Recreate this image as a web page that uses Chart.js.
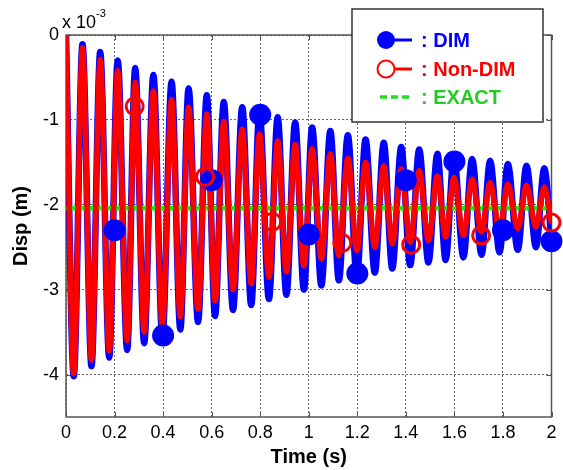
<!DOCTYPE html>
<html>
<head>
<meta charset="utf-8">
<script src="https://cdn.jsdelivr.net/npm/chart.js@4.4.1/dist/chart.umd.min.js"></script>
<style>
  html, body { margin: 0; padding: 0; background: #fff; }
</style>
</head>
<body>
<canvas id="chart1" width="563" height="470"></canvas>
<script>
// displacement values in units of 1e-3 m
// times of the crests and troughs of the oscillation (s)
const peakTimes = [0, 0.068, 0.141, 0.213, 0.285, 0.360, 0.435, 0.505, 0.580, 0.650, 0.726, 0.797, 0.872, 0.944,
  1.014, 1.089, 1.161, 1.234, 1.309, 1.381, 1.455, 1.530, 1.598, 1.673, 1.747, 1.820, 1.897, 1.970];
const troughTimes = [0.032, 0.105, 0.178, 0.252, 0.322, 0.397, 0.471, 0.544, 0.614, 0.688, 0.763, 0.836, 0.908, 0.980,
  1.052, 1.124, 1.198, 1.272, 1.344, 1.418, 1.493, 1.564, 1.637, 1.712, 1.786, 1.861, 1.936];
const endTime = 2.0;

// DIM
const dimPeaks = [0, -0.11, -0.20, -0.30, -0.39, -0.47, -0.55, -0.63, -0.71, -0.79, -0.85, -0.90, -0.97, -1.03,
  -1.09, -1.13, -1.18, -1.23, -1.27, -1.32, -1.35, -1.40, -1.43, -1.46, -1.48, -1.52, -1.54, -1.57];
const dimTroughs = [-4.02, -3.90, -3.80, -3.71, -3.63, -3.57, -3.47, -3.38, -3.31, -3.24, -3.18, -3.11, -3.06, -3.00,
  -2.95, -2.89, -2.85, -2.80, -2.75, -2.71, -2.68, -2.65, -2.62, -2.59, -2.56, -2.53, -2.50];
const dimEnd = -2.42;

// Non-DIM
const nonDimPeaks = [0, -0.15, -0.29, -0.42, -0.56, -0.66, -0.76, -0.85, -0.93, -1.02, -1.11, -1.17, -1.25, -1.29,
  -1.34, -1.40, -1.45, -1.50, -1.54, -1.58, -1.60, -1.66, -1.68, -1.70, -1.74, -1.76, -1.77, -1.79];
const nonDimTroughs = [-3.99, -3.83, -3.72, -3.60, -3.50, -3.42, -3.32, -3.23, -3.13, -3.00, -2.93, -2.85, -2.79, -2.72,
  -2.64, -2.60, -2.54, -2.50, -2.46, -2.44, -2.42, -2.38, -2.36, -2.32, -2.30, -2.28, -2.26];
const nonDimEnd = -2.22;

// marker samples
const dimMarkerTimes = [0.2, 0.4, 0.6, 0.8, 1.0, 1.2, 1.4, 1.6, 1.8, 2.0];
const dimMarkerValues = [-2.30, -3.54, -1.71, -0.94, -2.35, -2.81, -1.71, -1.49, -2.30, -2.43];
const nonDimMarkerTimes = [0.283, 0.573, 0.850, 1.138, 1.422, 1.710, 2.0];
const nonDimMarkerValues = [-0.84, -1.67, -2.20, -2.45, -2.47, -2.36, -2.21];

// exact static solution
const exactTimes = [0, 2];
const exactValues = [-2.04, -2.04];

const xTicks = [0, 0.2, 0.4, 0.6, 0.8, 1, 1.2, 1.4, 1.6, 1.8, 2];
const xTickLabels = ['0', '0.2', '0.4', '0.6', '0.8', '1', '1.2', '1.4', '1.6', '1.8', '2'];
const yTicks = [-4, -3, -2, -1, 0];
const yTickLabels = ['-4', '-3', '-2', '-1', '0'];
const legendLabels = [': DIM', ': Non-DIM', ': EXACT'];

function zigzag(peaks, troughs, last) {
  const pts = [];
  for (let i = 0; i < peakTimes.length; i++) {
    pts.push({ x: peakTimes[i], y: peaks[i] });
    if (i < troughTimes.length) pts.push({ x: troughTimes[i], y: troughs[i] });
  }
  pts.push({ x: endTime, y: last });
  return pts;
}
function pairs(xs, ys) {
  return xs.map((x, i) => ({ x: x, y: ys[i] }));
}

const FONT = "'Liberation Sans', Arial, sans-serif";

// box, inner ticks, exponent label
const framePlugin = {
  id: 'frame',
  beforeDatasetsDraw(chart) {
    const { ctx, chartArea: a, scales } = chart;
    ctx.save();
    ctx.strokeStyle = '#555';
    ctx.lineWidth = 1;
    ctx.beginPath();
    xTicks.forEach(v => {
      const px = Math.round(scales.x.getPixelForValue(v)) + 0.5;
      ctx.moveTo(px, a.bottom); ctx.lineTo(px, a.bottom - 5);
      ctx.moveTo(px, a.top); ctx.lineTo(px, a.top + 5);
    });
    yTicks.forEach(v => {
      const py = Math.round(scales.y.getPixelForValue(v)) + 0.5;
      ctx.moveTo(a.left, py); ctx.lineTo(a.left + 5, py);
      ctx.moveTo(a.right, py); ctx.lineTo(a.right - 5, py);
    });
    ctx.stroke();
    ctx.lineWidth = 1.5;
    ctx.strokeRect(a.left, a.top, a.right - a.left, a.bottom - a.top);
    ctx.fillStyle = '#000';
    ctx.textBaseline = 'middle';
    ctx.font = '18px ' + FONT;
    ctx.fillText('x 10', a.left - 4, a.top - 12);
    ctx.font = '11px ' + FONT;
    ctx.fillText('-3', a.left + 30, a.top - 21);
    ctx.restore();
  }
};

const legendPlugin = {
  id: 'boxLegend',
  afterDraw(chart) {
    const ctx = chart.ctx;
    ctx.save();
    ctx.fillStyle = '#fff';
    ctx.fillRect(352, 9, 191, 113);
    ctx.strokeStyle = '#333';
    ctx.lineWidth = 1.5;
    ctx.strokeRect(352, 9, 191, 113);

    // DIM
    ctx.strokeStyle = '#0000ff';
    ctx.lineWidth = 3;
    ctx.beginPath(); ctx.moveTo(386, 40); ctx.lineTo(412, 40); ctx.stroke();
    ctx.fillStyle = '#0000ff';
    ctx.beginPath(); ctx.arc(386, 40, 9, 0, Math.PI * 2); ctx.fill();
    // Non-DIM
    ctx.strokeStyle = '#ff0000';
    ctx.beginPath(); ctx.moveTo(386, 69); ctx.lineTo(412, 69); ctx.stroke();
    ctx.fillStyle = '#fff';
    ctx.lineWidth = 2;
    ctx.beginPath(); ctx.arc(386, 69, 8.5, 0, Math.PI * 2); ctx.fill(); ctx.stroke();
    // EXACT
    ctx.strokeStyle = '#22dd22';
    ctx.lineWidth = 3.5;
    ctx.setLineDash([7, 4]);
    ctx.beginPath(); ctx.moveTo(380, 97); ctx.lineTo(412, 97); ctx.stroke();
    ctx.setLineDash([]);

    ctx.font = 'bold 20px ' + FONT;
    ctx.textBaseline = 'middle';
    const colors = ['#0000ff', '#ff0000', '#22cc22'];
    const rows = [40, 69, 97];
    legendLabels.forEach((t, i) => {
      ctx.fillStyle = colors[i];
      ctx.fillText(t, 421, rows[i] + 1);
    });
    ctx.restore();
  }
};

const chartConfig = {
  type: 'scatter',
  data: {
    datasets: [
      {
        label: 'Non-DIM markers',
        data: pairs(nonDimMarkerTimes, nonDimMarkerValues),
        showLine: false,
        pointRadius: 8.5,
        pointBorderWidth: 3,
        pointBackgroundColor: 'rgba(0,0,0,0)',
        pointBorderColor: '#ff0000',
        clip: false,
        order: 0
      },
      {
        label: 'DIM markers',
        data: pairs(dimMarkerTimes, dimMarkerValues),
        showLine: false,
        pointRadius: 11,
        pointBorderWidth: 0,
        pointBackgroundColor: '#0000ff',
        clip: false,
        order: 1
      },
      {
        label: 'Non-DIM',
        data: zigzag(nonDimPeaks, nonDimTroughs, nonDimEnd),
        showLine: true,
        borderColor: '#ff0000',
        borderWidth: 5.5,
        pointRadius: 0,
        cubicInterpolationMode: 'monotone',
        clip: 0,
        order: 2
      },
      {
        label: 'EXACT',
        data: pairs(exactTimes, exactValues),
        showLine: true,
        borderColor: '#11ee11',
        borderWidth: 4.5,
        pointRadius: 0,
        clip: 0,
        order: 3
      },
      {
        label: 'DIM',
        data: zigzag(dimPeaks, dimTroughs, dimEnd),
        showLine: true,
        borderColor: '#0000ff',
        borderWidth: 6.5,
        pointRadius: 0,
        cubicInterpolationMode: 'monotone',
        clip: 0,
        order: 4
      }
    ]
  },
  options: {
    responsive: false,
    animation: false,
    devicePixelRatio: 1,
    layout: { padding: { left: 0, right: 6, top: 35, bottom: 0 } },
    plugins: {
      legend: { display: false },
      tooltip: { enabled: false }
    },
    scales: {
      x: {
        type: 'linear',
        min: 0,
        max: 2,
        afterBuildTicks: s => { s.ticks = xTicks.map(v => ({ value: v })); },
        afterFit: s => { s.height = 53; },
        ticks: {
          callback: (v, i) => xTickLabels[i],
          color: '#000',
          font: { family: FONT, size: 18 },
          padding: 5,
          maxRotation: 0
        },
        grid: { color: '#666', lineWidth: 1, drawTicks: false },
        border: { display: false, dash: [2, 2] },
        title: {
          display: true,
          text: 'Time (s)',
          color: '#000',
          font: { family: FONT, size: 20, weight: 'bold' },
          padding: { top: 0, bottom: 1 }
        }
      },
      y: {
        type: 'linear',
        min: -4.5,
        max: 0,
        afterBuildTicks: s => { s.ticks = yTicks.map(v => ({ value: v })); },
        afterFit: s => { s.width = 66; },
        ticks: {
          callback: (v, i) => yTickLabels[i],
          color: '#000',
          font: { family: FONT, size: 18 },
          padding: 7
        },
        grid: { color: '#666', lineWidth: 1, drawTicks: false },
        border: { display: false, dash: [2, 2] },
        title: {
          display: true,
          text: 'Disp (m)',
          color: '#000',
          font: { family: FONT, size: 20, weight: 'bold' },
          padding: { top: 9, bottom: 0 }
        }
      }
    }
  },
  plugins: [framePlugin, legendPlugin]
};

const ctx1 = document.getElementById('chart1').getContext('2d');
new Chart(ctx1, chartConfig);
</script>
</body>
</html>
